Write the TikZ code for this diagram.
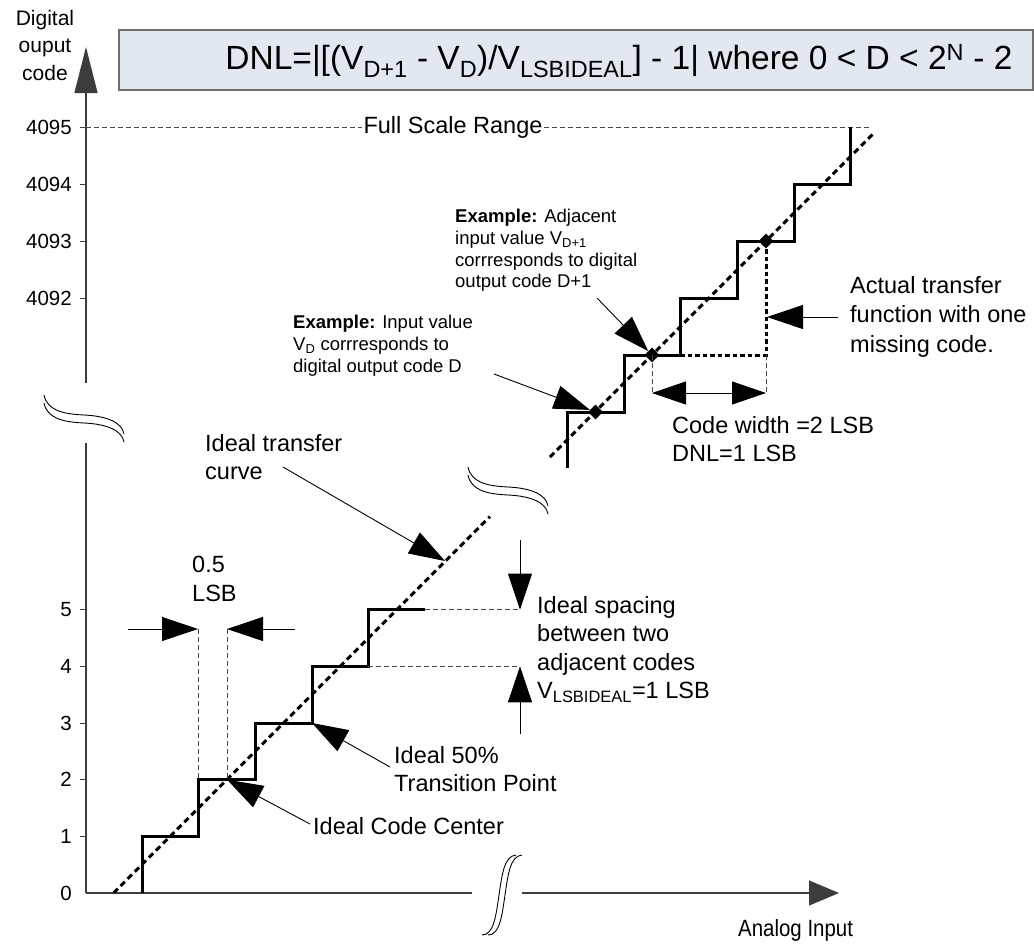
\documentclass[tikz,border=0pt]{standalone}
\usepackage{fontspec}
\setmainfont{Liberation Sans}
\usetikzlibrary{arrows.meta,shapes.geometric}
\definecolor{boxfill}{HTML}{E2E8F0}
\definecolor{boxline}{HTML}{6E6E6E}
\definecolor{axisgray}{HTML}{3C3C3C}
\definecolor{dashgray}{HTML}{4A4A4A}
\tikzset{
  axisline/.style={draw=axisgray, line width=1.2pt},
  stair/.style={line width=3pt, line join=miter, line cap=butt},
  ideal/.style={line width=3pt, dash pattern=on 6pt off 4pt},
  actual/.style={line width=3pt, dash pattern=on 4.5pt off 3pt},
  guide/.style={draw=dashgray, line width=0.9pt, dash pattern=on 5pt off 3pt},
  pointer/.style={line width=0.9pt, -{Triangle[length=36pt,width=24pt]}},
  dia/.style={diamond, fill=black, inner sep=0pt, minimum size=15pt},
  big/.style={font=\fontsize{23.5}{28.5}\selectfont, align=left, inner sep=0pt, anchor=north west},
  small/.style={font=\fontsize{18.5}{21.7}\selectfont, align=left, inner sep=0pt, anchor=north west},
  lab/.style={font=\fontsize{20.5}{24}\selectfont, anchor=east, inner sep=0pt},
  brk/.style={line width=0.9pt},
  tick/.style={draw=axisgray, line width=1pt}
}
\begin{document}
\begin{tikzpicture}[x=1pt,y=-1pt]
\useasboundingbox (0,0) rectangle (1034,948);

% ---------- formula box ----------
\node[draw=boxline, fill=boxfill, line width=1.5pt, minimum width=914pt, minimum height=60pt, inner sep=0pt] (box) at (576,60) {};
\node[font=\fontsize{33.5}{36}\selectfont, inner sep=0pt] (dnl) at (619,61)
  {DNL=|[(V\textsubscript{D+1} - V\textsubscript{D})/V\textsubscript{LSBIDEAL}] - 1| where 0 < D < 2\textsuperscript{N} - 2};

% ---------- axes ----------
\coordinate (ytip) at (86,47);
\coordinate (ytop) at (86,383);
\coordinate (ybot) at (86,443);
\coordinate (orig) at (86,893);
\coordinate (xgap1) at (472,893);
\coordinate (xgap2) at (522,893);
\coordinate (xtip) at (839,893);
\draw[axisline, -{Triangle[length=46pt,width=23pt]}] (ytop) -- (ytip);
\draw[axisline] (ybot) -- (orig);
\draw[axisline] (orig) -- (xgap1);
\draw[axisline, -{Triangle[length=30pt,width=25pt]}] (xgap2) -- (xtip);

\node[font=\fontsize{21}{27.5}\selectfont, align=center, inner sep=0pt, anchor=north] (ytitle) at (45,10) {Digital\\ouput\\code};
\node[font=\fontsize{23.5}{28}\selectfont\addfontfeature{FakeStretch=0.87}, inner sep=0pt, anchor=west] (xtitle) at (738,930) {Analog Input};

% axis breaks
\draw[brk] (44,395) .. controls (47,410) and (62,414) .. (84,415) .. controls (106,416) and (122,422) .. (124,434);
\draw[brk] (44,403) .. controls (47,418) and (62,422) .. (84,423) .. controls (106,424) and (122,430) .. (124,442);
\draw[brk] (468,467) .. controls (471,482) and (486,486) .. (508,487) .. controls (530,488) and (546,494) .. (548,506);
\draw[brk] (468,475) .. controls (471,490) and (486,494) .. (508,495) .. controls (530,496) and (546,502) .. (548,514);
\draw[brk] (482,935) .. controls (494,935) and (496,915) .. (499,895) .. controls (502,875) and (504,856) .. (516,855);
\draw[brk] (488,935) .. controls (500,935) and (502,915) .. (505,895) .. controls (508,875) and (510,856) .. (522,855);

% ---------- tick labels ----------
\foreach \v/\y in {0/893,1/836.3,2/779.6,3/723,4/666.3,5/609.6}{
  \node[lab] (l\v) at (72,\y) {\v};
}
\foreach \v/\y in {1/836.3,2/779.6,3/723,4/666.3,5/609.6}{
  \draw[tick] (80,\y) -- (86,\y);
}
\foreach \v/\y in {4095/127,4094/184,4093/241,4092/298}{
  \node[lab] (u\v) at (72,\y) {\v};
  \draw[tick] (80,\y) -- (86,\y);
}

% ---------- full scale range ----------
\node[big, anchor=center, inner sep=1.5pt] (fsr) at (453,127) {Full Scale Range};
\draw[guide] (86,127) -- (fsr.west);
\draw[guide] (fsr.east) -- (869,127);

% ---------- lower staircase ----------
\draw[stair] (142,893) -- (142,836.3) -- (198.7,836.3) -- (198.7,779.6) -- (255.3,779.6) -- (255.3,723)
  -- (312,723) -- (312,666.3) -- (368.4,666.3) -- (368.4,609.6) -- (425,609.6);
\draw[ideal] (113.6,893) -- (490,516.6);

% 0.5 LSB
\draw[guide] (198,629) -- (198,779.6);
\draw[guide] (227,629) -- (227,779.6);
\coordinate (hlA) at (128,629);
\coordinate (hlB) at (198,629);
\coordinate (hrA) at (295,629);
\coordinate (hrB) at (227,629);
\draw[pointer] (hlA) -- (hlB);
\draw[pointer] (hrA) -- (hrB);
\node[big] (half) at (192,556) {0.5\\LSB};

% ideal spacing
\draw[guide] (425,609.6) -- (520,609.6);
\draw[guide] (368.4,666.3) -- (520,666.3);
\coordinate (vdA) at (520,540);
\coordinate (vdB) at (520,609.6);
\coordinate (vuA) at (520,734);
\coordinate (vuB) at (520,666.3);
\draw[pointer] (vdA) -- (vdB);
\draw[pointer] (vuA) -- (vuB);
\node[big] (spacing) at (537,596) {Ideal spacing\\between two\\adjacent codes\\V\textsubscript{LSBIDEAL}=1 LSB};

% ideal transfer curve
\node[big] (itc) at (205,434) {Ideal transfer\\curve};
\coordinate (itcA) at (283,467);
\coordinate (itcB) at (445,561);
\draw[pointer] (itcA) -- (itcB);

% transition point
\node[big] (itp) at (394,746) {Ideal 50\%\\Transition Point};
\coordinate (itpA) at (390,767);
\coordinate (itpB) at (312,723);
\draw[pointer] (itpA) -- (itpB);

% code center
\node[big] (icc) at (313,817) {Ideal Code Center};
\coordinate (iccA) at (310,824);
\coordinate (iccB) at (227,779.6);
\draw[pointer] (iccA) -- (iccB);

% ---------- upper staircase ----------
\draw[stair] (567,468) -- (567,412) -- (624,412) -- (624,355) -- (680,355) -- (680,298) -- (737,298)
  -- (737,241) -- (794,241) -- (794,184) -- (850,184) -- (850,127);
\draw[ideal] (550,457) -- (873,134);
\draw[actual] (680,355) -- (766,355) -- (766,241);

\node[dia] (dD) at (595.5,412) {};
\node[dia] (dD1) at (652,355) {};
\node[dia] (dM) at (766,241) {};

% code width
\draw[guide] (652,355) -- (652,393);
\draw[guide] (766,355) -- (766,393);
\coordinate (cwL) at (652,393);
\coordinate (cwR) at (766,393);
\draw[line width=0.9pt, {Triangle[length=34pt,width=23pt]}-{Triangle[length=34pt,width=23pt]}] (cwL) -- (cwR);
\node[big] (cw) at (672,416) {Code width =2 LSB\\DNL=1 LSB};

% actual transfer
\node[big, font=\fontsize{23.5}{29.5}\selectfont] (atf) at (850,276) {Actual transfer\\function with one\\missing code.};
\coordinate (atfA) at (838,317);
\coordinate (atfB) at (767,317);
\draw[pointer] (atfA) -- (atfB);

% examples
\node[small] (exD) at (293,315) {\textbf{Example:} Input value\\V\textsubscript{D} corrresponds to\\digital output code D};
\coordinate (exDA) at (494,374);
\draw[pointer] (exDA) -- (dD);
\node[small] (exD1) at (455,209) {\textbf{Example:} Adjacent\\input value V\textsubscript{D+1}\\corrresponds to digital\\output code D+1};
\coordinate (exD1A) at (597,298);
\draw[pointer] (exD1A) -- (dD1);

\end{tikzpicture}
\end{document}
